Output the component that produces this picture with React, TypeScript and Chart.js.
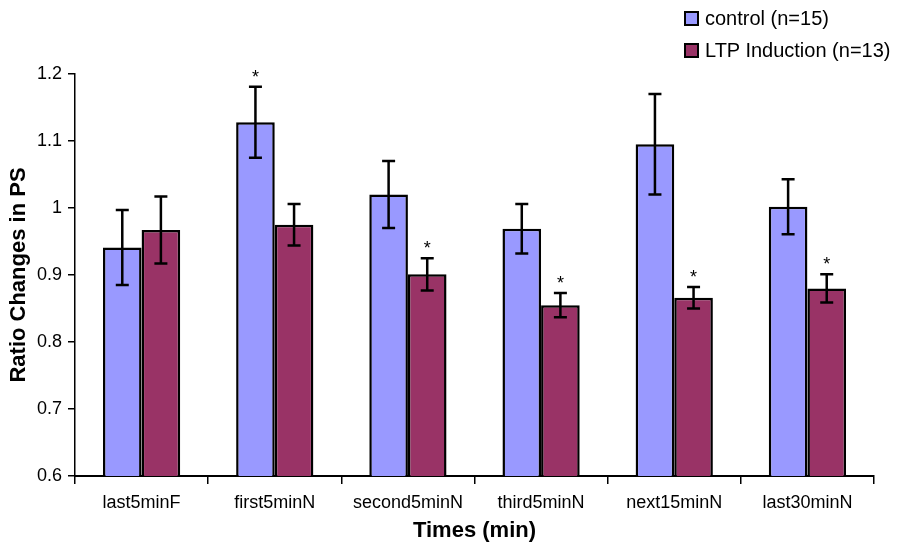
import React, { useEffect, useRef } from "react";
import { Chart, registerables } from "chart.js";

Chart.register(...registerables);

const categories = ["last5minF", "first5minN", "second5minN", "third5minN", "next15minN", "last30minN"];
const controlMeans = [0.941, 1.128, 1.02, 0.969, 1.095, 1.002];
const controlErrors = [0.056, 0.053, 0.05, 0.037, 0.075, 0.041];
const ltpMeans = [0.967, 0.975, 0.901, 0.855, 0.866, 0.88];
const ltpErrors = [0.05, 0.031, 0.024, 0.018, 0.016, 0.021];
const controlSignificant = [false, true, false, false, false, false];
const ltpSignificant = [false, false, true, true, true, true];
const yTickValues = [0.6, 0.7, 0.8, 0.9, 1.0, 1.1, 1.2];
const seriesLabels = ["control (n=15)", "LTP Induction (n=13)"];
const seriesColors = ["#9999FF", "#993366"];
const xTitle = "Times (min)";
const yTitle = "Ratio Changes in PS";

const FONT = "'Liberation Sans', Arial, Helvetica, sans-serif";

const errorBarPlugin = {
  id: "errorBars",
  afterDatasetsDraw(chart: any) {
    const ctx = chart.ctx;
    const yScale = chart.scales.y;
    chart.data.datasets.forEach((ds: any, di: number) => {
      const meta = chart.getDatasetMeta(di);
      meta.data.forEach((bar: any, i: number) => {
        const v = ds.data[i];
        const e = ds.errors[i];
        const top = yScale.getPixelForValue(v + e);
        const bot = yScale.getPixelForValue(v - e);
        const x = bar.x;
        ctx.save();
        ctx.strokeStyle = "#000";
        ctx.lineWidth = 2.5;
        ctx.beginPath();
        ctx.moveTo(x, top);
        ctx.lineTo(x, bot);
        ctx.moveTo(x - 6.5, top);
        ctx.lineTo(x + 6.5, top);
        ctx.moveTo(x - 6.5, bot);
        ctx.lineTo(x + 6.5, bot);
        ctx.stroke();
        if (ds.significant[i]) {
          ctx.fillStyle = "#000";
          ctx.font = `18px ${FONT}`;
          ctx.textAlign = "center";
          ctx.textBaseline = "alphabetic";
          ctx.fillText("*", x, top - 4);
        }
        ctx.restore();
      });
    });
  },
};

export default function App() {
  const canvasRef = useRef<HTMLCanvasElement | null>(null);

  useEffect(() => {
    if (!canvasRef.current) return;
    const chart = new Chart(canvasRef.current, {
      type: "bar",
      data: {
        labels: categories,
        datasets: [
          {
            label: seriesLabels[0],
            data: controlMeans,
            errors: controlErrors,
            significant: controlSignificant,
            backgroundColor: seriesColors[0],
            borderColor: "#000",
            borderWidth: 2.5,
            borderSkipped: false,
          } as any,
          {
            label: seriesLabels[1],
            data: ltpMeans,
            errors: ltpErrors,
            significant: ltpSignificant,
            backgroundColor: seriesColors[1],
            borderColor: "#000",
            borderWidth: 2.5,
            borderSkipped: false,
          } as any,
        ],
      },
      options: {
        responsive: false,
        animation: false,
        layout: { padding: { left: 0, top: 74, right: 28, bottom: 0 } },
        datasets: { bar: { categoryPercentage: 0.58, barPercentage: 1 } },
        plugins: {
          legend: { display: false },
          tooltip: { enabled: false },
        },
        scales: {
          x: {
            grid: {
              display: true,
              drawOnChartArea: false,
              tickLength: 8,
              color: "#000",
              lineWidth: 1.5,
              offset: true,
            },
            border: { display: true, color: "#000", width: 2 },
            ticks: { color: "#000", font: { family: FONT, size: 18 }, padding: 8, maxRotation: 0 },
            title: {
              display: true,
              text: xTitle,
              color: "#000",
              font: { family: FONT, size: 22, weight: "bold" },
              padding: { top: 0, bottom: 10 },
            },
            afterFit(scale: any) {
              scale.height = 78;
            },
          },
          y: {
            min: 0.6,
            max: 1.2,
            afterBuildTicks(scale: any) {
              scale.ticks = yTickValues.map((v) => ({ value: v }));
            },
            grid: {
              display: true,
              drawOnChartArea: false,
              tickLength: 7,
              color: "#000",
              lineWidth: 1.5,
            },
            border: { display: true, color: "#000", width: 1.5 },
            ticks: {
              color: "#000",
              font: { family: FONT, size: 18 },
              padding: 6,
              callback: (v: any) => String(Number(Number(v).toFixed(1))),
            },
            title: {
              display: true,
              text: yTitle,
              color: "#000",
              font: { family: FONT, size: 22, weight: "bold" },
              padding: { top: 6, bottom: 0 },
            },
            afterFit(scale: any) {
              scale.width = 75;
            },
          },
        },
      },
      plugins: [errorBarPlugin],
    } as any);
    return () => chart.destroy();
  }, []);

  return (
    <div style={{ position: "absolute", left: 0, top: 0, width: 902, height: 554, background: "#fff" }}>
      <canvas ref={canvasRef} width={902} height={554} style={{ display: "block" }} />
      <div style={{ position: "absolute", left: 684, top: 2, fontFamily: FONT, fontSize: 20, color: "#000" }}>
        {seriesLabels.map((lab, i) => (
          <div key={lab} style={{ display: "flex", alignItems: "center", height: 32 }}>
            <span
              style={{
                display: "inline-block",
                width: 11,
                height: 11,
                background: seriesColors[i],
                border: "2px solid #000",
                marginRight: 6,
              }}
            />
            <span style={{ whiteSpace: "nowrap" }}>{lab}</span>
          </div>
        ))}
      </div>
    </div>
  );
}
